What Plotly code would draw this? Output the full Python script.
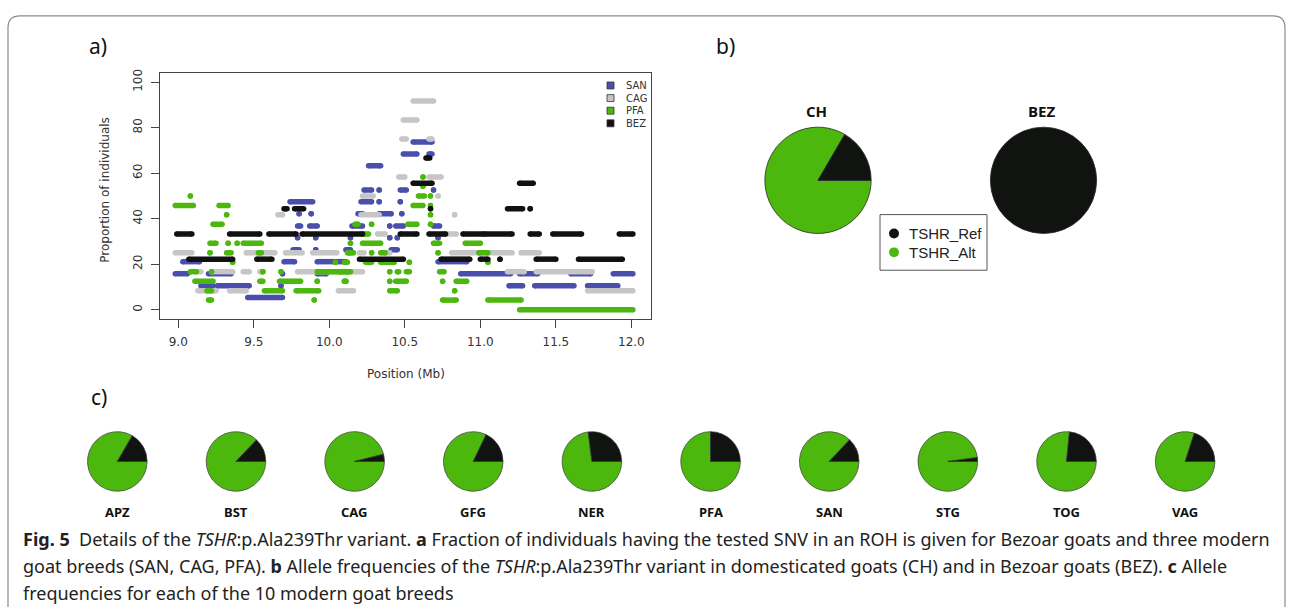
import plotly.graph_objects as go

W, H = 1293, 607

# ---------------- Panel a: runs of SNVs in ROH (Mb start, Mb end, % individuals) ----------
SERIES = ["SAN", "CAG", "PFA", "BEZ"]
COLORS = {"SAN": "#4a4fad", "CAG": "#c6c6c6", "PFA": "#4cb70f", "BEZ": "#111111"}

SAN_start = [8.98, 9.20, 9.03, 9.70, 9.92, 9.15, 9.26, 9.68, 9.46, 9.69, 9.92, 9.76, 9.91, 10.11,
             9.79, 9.91, 10.14, 9.79, 9.87, 10.15, 9.80, 9.88, 10.19, 10.33, 9.74, 10.21, 10.33,
             10.23, 10.33, 10.26, 10.40, 10.44, 10.69, 10.40, 10.45, 10.72, 10.41, 10.47, 10.48,
             10.47, 10.69, 10.72, 10.87, 11.26, 11.60, 11.88, 11.19, 11.36, 11.71, 10.49, 10.66, 10.555]
SAN_end = [9.06, 9.35, 9.14, 9.77, 10.11, 9.23, 9.47, 9.68, 9.69, 9.69, 9.98, 9.80, 9.91, 10.14,
           9.79, 9.91, 10.14, 9.81, 9.92, 10.22, 9.80, 9.88, 10.22, 10.41, 9.89, 10.28, 10.33,
           10.28, 10.33, 10.34, 10.40, 10.49, 10.73, 10.40, 10.45, 10.72, 10.45, 10.47, 10.48,
           10.51, 10.69, 10.91, 11.20, 11.38, 11.73, 12.01, 11.28, 11.62, 11.91, 10.58, 10.68, 10.68]
SAN_prop = [15.8, 15.8, 21.1, 21.1, 21.1, 10.5, 10.5, 10.5, 5.3, 15.8, 15.8, 26.3, 26.3, 26.3,
            31.6, 31.6, 31.6, 36.8, 36.8, 36.8, 42.1, 42.1, 42.1, 42.1, 47.4, 47.4, 47.4,
            52.6, 52.6, 63.2, 36.8, 36.8, 36.8, 31.6, 31.6, 31.6, 26.3, 47.4, 42.1,
            52.6, 52.6, 21.1, 15.8, 15.8, 15.8, 15.8, 10.5, 10.5, 10.5, 68.4, 68.4, 73.7]

CAG_start = [8.98, 9.45, 9.71, 9.89, 10.20, 9.12, 9.22, 9.43, 9.54, 9.79, 9.13, 9.34, 10.06, 9.66,
             10.21, 10.22, 10.32, 10.555, 10.49, 10.48, 10.66, 10.46, 10.66, 10.72, 10.83, 10.75,
             10.37, 10.81, 11.27, 11.18, 11.37, 11.71]
CAG_end = [9.09, 9.64, 9.82, 10.05, 10.23, 9.15, 9.36, 9.47, 9.56, 10.22, 9.25, 9.45, 10.16, 9.69,
           10.33, 10.29, 10.37, 10.69, 10.58, 10.51, 10.68, 10.50, 10.74, 10.72, 10.83, 10.84,
           10.40, 11.21, 11.39, 11.29, 11.74, 12.01]
CAG_prop = [25.0, 25.0, 25.0, 25.0, 25.0, 16.7, 16.7, 16.7, 16.7, 16.7, 8.3, 8.3, 8.3, 41.7,
            41.7, 50.0, 33.3, 91.7, 83.3, 75.0, 75.0, 58.3, 58.3, 50.0, 41.7, 33.3,
            25.0, 25.0, 25.0, 16.7, 16.7, 8.3]

PFA_start = [8.98, 9.27, 9.08, 9.32, 9.23, 9.21, 9.33, 9.39, 9.43, 10.14, 9.21, 9.32, 9.53, 10.13,
             9.36, 10.04, 9.08, 9.22, 9.56, 9.68, 9.92, 9.11, 9.54, 9.67, 9.92, 10.11, 9.19, 9.57,
             9.78, 9.20, 9.90, 10.22, 10.17, 10.28, 10.22, 10.28, 10.34, 10.62, 10.62, 10.59, 10.67,
             10.555, 10.67, 10.67, 10.52, 10.67, 10.23, 10.69, 10.90, 10.12, 10.72, 10.99, 10.10,
             10.24, 10.34, 10.53, 11.05, 10.07, 10.40, 10.45, 10.51, 10.73, 10.10, 10.40, 10.44,
             10.75, 10.84, 10.40, 10.83, 10.75, 11.05, 11.26]
PFA_end = [9.10, 9.33, 9.08, 9.32, 9.29, 9.25, 9.33, 9.39, 9.55, 10.14, 9.21, 9.35, 9.55, 10.16,
           9.36, 10.04, 9.12, 9.22, 9.56, 9.68, 10.14, 9.23, 9.56, 9.81, 9.92, 10.11, 9.22, 9.69,
           9.93, 9.22, 9.90, 10.26, 10.19, 10.28, 10.34, 10.28, 10.37, 10.62, 10.62, 10.63, 10.67,
           10.62, 10.67, 10.67, 10.58, 10.67, 10.23, 10.73, 11.00, 10.14, 10.72, 11.05, 10.12,
           10.28, 10.43, 10.53, 11.05, 10.12, 10.40, 10.46, 10.53, 10.76, 10.10, 10.40, 10.51,
           10.75, 10.91, 10.45, 10.83, 10.84, 11.27, 12.01]
PFA_prop = [45.8, 45.8, 50.0, 41.7, 37.5, 29.2, 29.2, 29.2, 29.2, 29.2, 25.0, 25.0, 25.0, 25.0,
            20.8, 20.8, 16.7, 16.7, 16.7, 16.7, 16.7, 12.5, 12.5, 12.5, 12.5, 12.5, 8.3, 8.3,
            8.3, 4.2, 4.2, 33.3, 37.5, 37.5, 29.2, 25.0, 25.0, 58.3, 54.2, 50.0, 50.0,
            45.8, 45.8, 41.7, 37.5, 37.5, 33.3, 29.2, 29.2, 25.0, 25.0, 25.0, 20.8,
            20.8, 20.8, 20.8, 20.8, 16.7, 16.7, 16.7, 16.7, 16.7, 12.5, 12.5, 12.5,
            12.5, 12.5, 8.3, 8.3, 4.2, 4.2, 0.0]

BEZ_start = [8.99, 9.34, 9.60, 9.82, 10.47, 10.66, 10.885, 11.03, 11.33, 11.48, 11.92, 9.07, 9.52,
             10.20, 10.74, 11.00, 11.13, 11.37, 11.65, 9.70, 9.77, 10.67, 11.18, 11.33, 10.555,
             11.26, 10.64]
BEZ_end = [9.09, 9.54, 9.78, 10.22, 10.58, 10.77, 11.02, 11.21, 11.39, 11.67, 12.01, 9.36, 9.62,
           10.49, 10.93, 11.05, 11.13, 11.50, 11.94, 9.72, 9.83, 10.67, 11.28, 11.33, 10.68,
           11.35, 10.665]
BEZ_prop = [33.3, 33.3, 33.3, 33.3, 33.3, 33.3, 33.3, 33.3, 33.3, 33.3, 33.3, 22.2, 22.2,
            22.2, 22.2, 22.2, 22.2, 22.2, 22.2, 44.4, 44.4, 44.4, 44.4, 44.4, 55.6,
            55.6, 66.7]

X_TICKS = [9.0, 9.5, 10.0, 10.5, 11.0, 11.5, 12.0]
X_TICKTEXT = ["9.0", "9.5", "10.0", "10.5", "11.0", "11.5", "12.0"]
Y_TICKS = [0, 20, 40, 60, 80, 100]

# ---------------- Panel b and c: allele frequencies (fraction of reference allele) ----------
ALLELES = ["TSHR_Ref", "TSHR_Alt"]
ALLELE_COLORS = ["#111311", "#4cb80e"]
B_GROUPS = ["CH", "BEZ"]
B_REF = [0.166, 1.0]
C_BREEDS = ["APZ", "BST", "CAG", "GFG", "NER", "PFA", "SAN", "STG", "TOG", "VAG"]
C_REF = [0.166, 0.129, 0.039, 0.179, 0.27, 0.25, 0.13, 0.021, 0.234, 0.20]

CAPTION = [
    "<b>Fig. 5</b>&nbsp; Details of the <i>TSHR</i>:p.Ala239Thr variant. <b>a</b> Fraction of individuals "
    "having the tested SNV in an ROH is given for Bezoar goats and three modern",
    "goat breeds (SAN, CAG, PFA). <b>b</b> Allele frequencies of the <i>TSHR</i>:p.Ala239Thr variant in "
    "domesticated goats (CH) and in Bezoar goats (BEZ). <b>c</b> Allele",
    "frequencies for each of the 10 modern goat breeds",
]


def px(x):
    return x / W


def py(y):
    return 1 - y / H


CAPFONT = "Noto Sans"

fig = go.Figure()

data = {
    "SAN": (SAN_start, SAN_end, SAN_prop),
    "CAG": (CAG_start, CAG_end, CAG_prop),
    "PFA": (PFA_start, PFA_end, PFA_prop),
    "BEZ": (BEZ_start, BEZ_end, BEZ_prop),
}
for name in SERIES:
    s_list, e_list, v_list = data[name]
    xs, ys = [], []
    for s, e, v in zip(s_list, e_list, v_list):
        xs += [s, e, None]
        ys += [v, v, None]
    fig.add_trace(go.Scatter(
        x=xs, y=ys, mode="lines+markers", name=name,
        line=dict(color=COLORS[name], width=5.5),
        marker=dict(color=COLORS[name], size=5.5),
        showlegend=False, xaxis="x", yaxis="y",
    ))


def pie_parts(ref):
    # Alt first, clockwise from 3 o'clock -> Ref slice sits counter-clockwise from 3 o'clock
    vals, labs, cols = [], [], []
    for v, l, c in zip([1 - ref, ref], ALLELES[::-1], ALLELE_COLORS[::-1]):
        if v > 0:
            vals.append(v)
            labs.append(l)
            cols.append(c)
    return vals, labs, cols


# Panel b pies
b_centers = [(818, 177.5), (1043.5, 177.5)]
b_r = 53.5
for g, ref, (cx, cy) in zip(B_GROUPS, B_REF, b_centers):
    vals, labs, cols = pie_parts(ref)
    fig.add_trace(go.Pie(
        values=vals, labels=labs, sort=False, direction="clockwise",
        rotation=90, textinfo="none", showlegend=False, name=g,
        marker=dict(colors=cols, line=dict(color="#2a2a2a", width=0.8)),
        domain=dict(x=[px(cx - b_r), px(cx + b_r)], y=[py(cy + b_r), py(cy - b_r)]),
    ))

# Panel c pies
c_r = 30
c_step = 118.65
for i, (br, ref) in enumerate(zip(C_BREEDS, C_REF)):
    cx = 117.3 + c_step * i
    cy = 460.5
    vals, labs, cols = pie_parts(ref)
    fig.add_trace(go.Pie(
        values=vals, labels=labs, sort=False, direction="clockwise",
        rotation=90, textinfo="none", showlegend=False, name=br,
        marker=dict(colors=cols, line=dict(color="#3a3a3a", width=0.7)),
        domain=dict(x=[px(cx - c_r), px(cx + c_r)], y=[py(cy + c_r), py(cy - c_r)]),
    ))

annotations = []
shapes = []

# frame
fx0, fx1, fy0, rad = 8, 1285, 12, 12
path = (f"M {px(fx0)},{py(640)} L {px(fx0)},{py(fy0 + rad)} Q {px(fx0)},{py(fy0)} {px(fx0 + rad)},{py(fy0)} "
        f"L {px(fx1 - rad)},{py(fy0)} Q {px(fx1)},{py(fy0)} {px(fx1)},{py(fy0 + rad)} L {px(fx1)},{py(640)}")
shapes.append(dict(type="path", xref="paper", yref="paper", path=path,
                   line=dict(color="#8a8a8a", width=1.2)))

# panel labels
for t, x, y in [("a)", 98, 42), ("b)", 725, 42), ("c)", 99, 396)]:
    annotations.append(dict(text=t, x=px(x), y=py(y), xref="paper", yref="paper", showarrow=False,
                            xanchor="center", yanchor="middle",
                            font=dict(family="Noto Sans", size=21, color="#111")))

# axis titles
annotations.append(dict(text="Position (Mb)", x=px(405.5), y=py(372), xref="paper", yref="paper",
                        showarrow=False, xanchor="center", yanchor="middle",
                        font=dict(family="DejaVu Sans", size=12, color="#333")))
annotations.append(dict(text="Proportion of individuals", x=px(105), y=py(187), xref="paper", yref="paper",
                        showarrow=False, xanchor="center", yanchor="middle", textangle=-90,
                        font=dict(family="DejaVu Sans", size=12, color="#333")))

# legend of panel a
for i, name in enumerate(SERIES):
    yy = 82 + 12.7 * i
    shapes.append(dict(type="rect", xref="paper", yref="paper",
                       x0=px(607), x1=px(614), y0=py(yy - 3.5), y1=py(yy + 3.5),
                       fillcolor=COLORS[name], line=dict(color="#333", width=0.8)))
    annotations.append(dict(text=name, x=px(623.5), y=py(yy), xref="paper", yref="paper",
                            showarrow=False, xanchor="left", yanchor="middle",
                            font=dict(family="DejaVu Sans", size=10, color="#333")))

# panel b group labels
for g, (cx, cy) in zip(B_GROUPS, b_centers):
    annotations.append(dict(text=f"<b>{g}</b>", x=px(cx - 2), y=py(108), xref="paper", yref="paper",
                            showarrow=False, xanchor="center", yanchor="middle",
                            font=dict(family="Open Sans", size=15, color="#111")))

# panel b legend
shapes.append(dict(type="rect", xref="paper", yref="paper", x0=px(880), x1=px(987),
                   y0=py(268), y1=py(212), line=dict(color="#555", width=1), fillcolor="white"))
for i, (al, col) in enumerate(zip(ALLELES, ALLELE_COLORS)):
    yy = 231 + 19 * i
    shapes.append(dict(type="circle", xref="paper", yref="paper", x0=px(889), x1=px(899),
                       y0=py(yy + 5), y1=py(yy - 5), fillcolor=col, line=dict(width=0)))
    annotations.append(dict(text=al, x=px(907), y=py(yy), xref="paper", yref="paper", showarrow=False,
                            xanchor="left", yanchor="middle",
                            font=dict(family="Liberation Sans", size=15, color="#222")))

# panel c labels
for i, br in enumerate(C_BREEDS):
    cx = 117.3 + c_step * i
    annotations.append(dict(text=f"<b>{br}</b>", x=px(cx), y=py(511), xref="paper", yref="paper",
                            showarrow=False, xanchor="center", yanchor="middle",
                            font=dict(family=CAPFONT, size=13, color="#111")))

# caption
for i, line in enumerate(CAPTION):
    annotations.append(dict(text=line, x=px(21), y=py(539 + 27 * i), xref="paper", yref="paper",
                            showarrow=False, xanchor="left", yanchor="middle",
                            font=dict(family=CAPFONT, size=18, color="#222")))

fig.update_layout(
    width=W, height=H, margin=dict(l=0, r=0, t=0, b=0),
    paper_bgcolor="white", plot_bgcolor="white",
    xaxis=dict(domain=[px(160), px(651)], range=[8.879, 12.13], tickvals=X_TICKS, ticktext=X_TICKTEXT,
               ticks="outside", ticklen=8, tickcolor="#444", showline=True, mirror=True,
               linecolor="#444", linewidth=1, showgrid=False, zeroline=False,
               tickfont=dict(family="DejaVu Sans", size=12, color="#333"), ticklabelstandoff=4),
    yaxis=dict(domain=[py(317), py(69)], range=[-4.06, 104.2], tickvals=Y_TICKS,
               ticks="outside", ticklen=8, tickcolor="#444", showline=True, mirror=True,
               linecolor="#444", linewidth=1, showgrid=False, zeroline=False, tickangle=-90,
               tickfont=dict(family="DejaVu Sans", size=12, color="#333"), ticklabelstandoff=4),
    annotations=annotations, shapes=shapes,
)

fig.write_html("out.html")
